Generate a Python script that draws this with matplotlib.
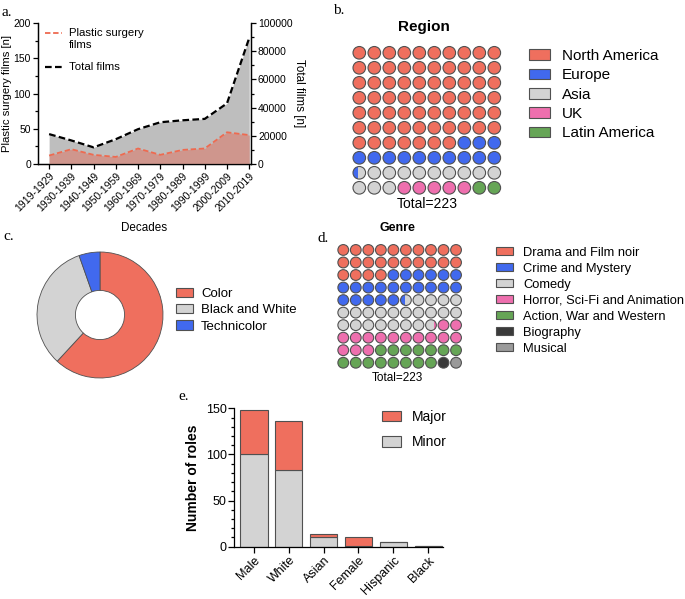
import numpy as np
import matplotlib.pyplot as plt
from matplotlib.patches import Circle, Rectangle, Patch
from matplotlib.lines import Line2D

plt.rcParams['font.family'] = ['Liberation Sans', 'DejaVu Sans']

W, H = 685, 599

# ---- data ----
decades = ["1919-1929", "1930-1939", "1940-1949", "1950-1959", "1960-1969",
           "1970-1979", "1980-1989", "1990-1999", "2000-2009", "2010-2019"]
plastic_films = [12, 21, 13, 10, 22, 13, 20, 22, 45, 41]
total_films = [21200, 16700, 11800, 17600, 24700, 29600, 31000, 32000, 43000, 89400]

region_names = ["North America", "Europe", "Asia", "UK", "Latin America"]
region_share = [67, 13.4, 12.6, 5, 2]

color_names = ["Color", "Black and White", "Technicolor"]
color_counts = [138, 73, 12]

genre_names = ["Drama and Film noir", "Crime and Mystery", "Comedy",
               "Horror, Sci-Fi and Animation", "Action, War and Western",
               "Biography", "Musical"]
genre_share = [24, 21.45, 22.3, 15.25, 15, 1, 1]

role_groups = ["Male", "White", "Asian", "Female", "Hispanic", "Black"]
role_minor = [100, 83, 10, 1, 5, 1]
role_major = [48, 53, 4, 10, 0, 0]

RED = "#EF6F5E"
BLUE = "#4169EE"
GREY = "#D3D3D3"
PINK = "#EE6FAE"
GREEN = "#66A556"
EDGE = "#505050"


def box(x0, y0, x1, y1):
    return [x0 / W, 1 - y1 / H, (x1 - x0) / W, (y1 - y0) / H]


def waffle(ax, shares, colors, radius):
    bounds = np.concatenate([[0], np.cumsum(shares)])
    for i in range(100):
        row, col = divmod(i, 10)
        outline = Circle((col, row), radius, facecolor="none",
                         edgecolor=EDGE, lw=0.8, zorder=3)
        ax.add_patch(outline)
        for k, color in enumerate(colors):
            lo = max(bounds[k], i)
            hi = min(bounds[k + 1], i + 1)
            if hi - lo > 1e-6:
                x0 = col - radius + (lo - i) * 2 * radius
                rect = Rectangle((x0, row - radius), (hi - lo) * 2 * radius,
                                 2 * radius, facecolor=color, lw=0, zorder=2)
                ax.add_patch(rect)
                rect.set_clip_path(outline)
    ax.set_xlim(-0.5, 9.5)
    ax.set_ylim(9.5, -0.5)
    ax.set_aspect("equal")
    ax.axis("off")


fig = plt.figure(figsize=(W / 100, H / 100), dpi=100)

# ---- panel a ----
ax = fig.add_axes(box(38, 23, 251, 164))
ax2 = ax.twinx()
x = np.arange(len(decades))
ax2.fill_between(x, total_films, color="#BEBEBE", lw=0)
ax2.plot(x, total_films, ls=(0, (3, 1.5)), color="black", lw=1.6)
ax.set_zorder(ax2.get_zorder() + 1)
ax.patch.set_visible(False)
ax.fill_between(x, plastic_films, color="#CF968D", lw=0)
ax.plot(x, plastic_films, ls=(0, (3, 1.5)), color="#EE6A50", lw=1.3)
ax.set_xlim(-0.5, 9.08)
ax.set_ylim(0, 200)
ax2.set_ylim(0, 100000)
ax.set_yticks([0, 50, 100, 150, 200])
ax.set_yticks([25, 75, 125, 175], minor=True)
ax2.set_yticks(np.arange(0, 100001, 20000))
ax2.set_yticks(np.arange(10000, 100000, 20000), minor=True)
ax.set_xticks(x)
ax.set_xticklabels(decades, rotation=45, ha="right", rotation_mode="anchor")
for a in (ax, ax2):
    a.spines["top"].set_visible(False)
    for s in a.spines.values():
        s.set_linewidth(0.9)
    a.tick_params(labelsize=7.5, length=3.5, width=0.9, pad=1.5)
    a.tick_params(which="minor", length=2, width=0.9)
ax.set_ylabel("Plastic surgery films [n]", fontsize=8.2, labelpad=1)
ax2.set_ylabel("Total films [n]", fontsize=8.4, rotation=270, labelpad=9)
ax.set_xlabel("Decades", fontsize=8.4, labelpad=6)

# legend of panel a, drawn by hand so the handle sits on the first text line
ax_w, ax_h = 251 - 38, 164 - 23
for col, lw, yl in [("#EE6A50", 1.3, 32.7), ("black", 1.6, 66.7)]:
    ya = 1 - (yl - 23) / ax_h
    ax.add_line(Line2D([(45 - 38) / ax_w, (62 - 38) / ax_w], [ya, ya],
                       transform=ax.transAxes, ls=(0, (3, 1.5)), color=col, lw=lw))
for txt, yl in [("Plastic surgery", 32.7), ("films", 45.5), ("Total films", 66.7)]:
    ax.text((69 - 38) / ax_w, 1 - (yl - 23) / ax_h, txt, transform=ax.transAxes,
            fontsize=8.2, va="center", ha="left")

# ---- panel b ----
axb = fig.add_axes(box(351.8, 44.8, 501.8, 195.8))
region_colors = [RED, BLUE, GREY, PINK, GREEN]
waffle(axb, region_share, region_colors, 0.42)
fig.text(424 / W, 1 - 27 / H, "Region", fontsize=11, fontweight="bold",
         ha="center", va="center")
fig.text(427 / W, 1 - 204 / H, "Total=223", fontsize=10, ha="center", va="center")
fig.legend([Patch(facecolor=c, edgecolor=EDGE, lw=0.8) for c in region_colors],
           region_names, loc="upper left", bbox_to_anchor=(529 / W, 1 - 49 / H),
           frameon=False, fontsize=11, handlelength=1.4, handleheight=0.72,
           handletextpad=0.75, labelspacing=0.35, borderpad=0, borderaxespad=0)

# ---- panel c ----
axc = fig.add_axes(box(37, 252, 163, 378))
color_colors = [RED, GREY, BLUE]
axc.pie(color_counts, colors=color_colors, startangle=90, counterclock=False,
        radius=1, wedgeprops=dict(width=0.61, edgecolor=EDGE, linewidth=0.6))
axc.set_xlim(-1, 1)
axc.set_ylim(-1, 1)
axc.set_aspect("equal")
fig.legend([Patch(facecolor=c, edgecolor=EDGE, lw=0.8) for c in color_colors],
           color_names, loc="upper left", bbox_to_anchor=(176 / W, 1 - 287.5 / H),
           frameon=False, fontsize=9.5, handlelength=1.3, handleheight=0.72,
           handletextpad=0.6, labelspacing=0.31, borderpad=0, borderaxespad=0)

# ---- panel d ----
axd = fig.add_axes(box(337, 243.7, 462.3, 369))
genre_colors = [RED, BLUE, GREY, PINK, GREEN, "#3A3A3A", "#9A9A9A"]
waffle(axd, genre_share, genre_colors, 0.43)
fig.text(397 / W, 1 - 228 / H, "Genre", fontsize=9, fontweight="bold",
         ha="center", va="center")
fig.text(397 / W, 1 - 378 / H, "Total=223", fontsize=8.5, ha="center", va="center")
fig.legend([Patch(facecolor=c, edgecolor=EDGE, lw=0.8) for c in genre_colors],
           genre_names, loc="upper left", bbox_to_anchor=(496 / W, 1 - 246.5 / H),
           frameon=False, fontsize=9.3, handlelength=1.35, handleheight=0.65,
           handletextpad=0.75, labelspacing=0.31, borderpad=0, borderaxespad=0)

# ---- panel e ----
axe = fig.add_axes(box(234.3, 408.3, 442.7, 546.7))
xe = np.arange(len(role_groups))
axe.bar(xe, role_minor, width=0.78, color=GREY, edgecolor=EDGE, lw=0.8, label="Minor")
axe.bar(xe, role_major, width=0.78, bottom=role_minor, color=RED,
        edgecolor=EDGE, lw=0.8, label="Major")
axe.set_xlim(-0.567, 5.42)
axe.set_ylim(0, 150)
axe.set_yticks([0, 50, 100, 150])
axe.set_yticks(np.arange(0, 151, 10), minor=True)
axe.set_xticks(xe)
axe.set_xticklabels(role_groups, rotation=45, ha="right", rotation_mode="anchor")
axe.spines["top"].set_visible(False)
axe.spines["right"].set_visible(False)
for s in axe.spines.values():
    s.set_linewidth(0.9)
axe.tick_params(labelsize=9, length=4, width=0.9, pad=1.5)
axe.tick_params(which="minor", length=2.2, width=0.9)
axe.set_ylabel("Number of roles", fontsize=10, fontweight="bold", labelpad=4)
h, l = axe.get_legend_handles_labels()
axe.legend(h[::-1], l[::-1], loc="upper left", bbox_to_anchor=(382 / W, 1 - 410 / H),
           bbox_transform=fig.transFigure, frameon=False, fontsize=10,
           handlelength=1.4, handleheight=0.78, handletextpad=0.75,
           labelspacing=0.8, borderpad=0, borderaxespad=0)

# ---- panel letters ----
for lab, px, py in [("a.", 2, 12), ("b.", 333, 11), ("c.", 3, 237),
                    ("d.", 318, 238), ("e.", 178, 397)]:
    fig.text(px / W, 1 - py / H, lab, fontsize=11, family="Liberation Serif",
             va="center", ha="left")

fig.savefig("out.png", dpi=100)
